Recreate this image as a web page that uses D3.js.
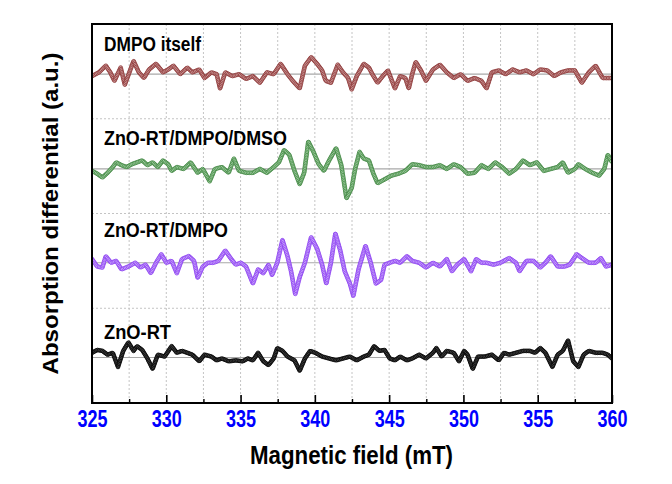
<!DOCTYPE html>
<html>
<head>
<meta charset="utf-8">
<script src="https://cdn.jsdelivr.net/npm/d3@7"></script>
<style>
  html, body { margin: 0; padding: 0; background: #fff; }
  svg { display: block; }
  text { font-family: "Liberation Sans", Arial, sans-serif; font-weight: bold; }
</style>
</head>
<body>
<div id="chart"></div>
<script>
// ---------------- DATA ----------------
const seriesNames = ["DMPO itself", "ZnO-RT/DMPO/DMSO", "ZnO-RT/DMPO", "ZnO-RT"];
const seriesOffsets = [347, 247, 148, 48];

const fieldDMPO = [325.00,325.47,325.93,326.23,326.51,326.93,327.21,327.80,328.15,328.50,328.84,329.31,329.78,330.13,330.48,330.94,331.41,331.76,332.22,332.57,333.04,333.39,333.62,333.97,334.44,334.90,335.37,335.83,336.30,336.77,337.23,337.70,338.16,338.51,338.98,339.33,339.75,340.15,340.49,340.73,341.08,341.54,341.89,342.24,342.48,342.82,343.29,343.64,343.87,344.22,344.57,344.92,345.39,345.74,346.09,346.32,346.55,346.79,347.14,347.48,347.95,348.42,348.88,349.35,349.81,350.28,350.75,351.21,351.56,351.91,352.38,352.84,353.31,353.78,354.24,354.71,355.17,355.64,356.11,356.57,357.04,357.50,357.97,358.44,358.90,359.37,360.00];
const valueDMPO = [-2,2,9,2,-7,7,-11,14,2,-4,5,11,2,5,9,0,7,2,5,-4,2,0,-15,2,-2,0,-5,-2,-9,2,0,11,0,-7,-15,9,18,11,4,-7,-9,10,2,-4,-16,-2,11,7,0,-9,-2,4,-15,-2,-4,-15,0,13,4,-7,5,10,2,-4,0,-7,-4,-7,-15,2,4,0,5,2,4,0,5,4,-2,2,4,4,-9,2,9,-4,-4];

const fieldDMSO = [325.00,325.35,325.70,326.05,326.40,326.63,326.98,327.33,327.68,328.03,328.38,328.73,329.08,329.43,329.78,330.13,330.36,330.71,331.17,331.64,332.11,332.46,332.92,333.27,333.74,334.20,334.55,334.90,335.37,335.83,336.30,336.77,337.23,337.58,337.93,338.28,338.63,338.98,339.28,339.56,339.91,340.26,340.61,340.96,341.43,341.78,342.13,342.48,342.71,343.01,343.29,343.64,343.94,344.22,344.69,345.15,345.62,346.09,346.55,347.02,347.48,347.95,348.42,348.88,349.35,349.81,350.28,350.75,351.21,351.68,352.14,352.61,353.08,353.54,354.01,354.47,354.94,355.41,355.87,356.34,356.69,357.04,357.50,357.74,358.20,358.67,359.13,359.48,359.72,360.00];
const valueDMSO = [-2,-5,-9,-4,2,7,4,2,5,7,9,4,7,2,9,5,-2,2,0,7,-4,0,-13,0,2,-4,11,-2,-4,-4,0,-4,2,7,20,15,-2,-16,-4,29,18,5,-2,9,22,4,-31,-20,0,18,11,9,-5,-15,-11,-7,-5,-2,5,4,2,2,4,0,5,2,-5,-4,4,0,7,2,-5,0,9,4,7,-2,0,2,7,-4,0,5,0,-4,-7,0,15,7];

const fieldZnODMPO = [325.00,325.35,325.70,325.93,326.28,326.63,326.98,327.45,327.91,328.26,328.61,328.96,329.31,329.66,330.01,330.36,330.71,331.06,331.52,331.87,332.11,332.46,332.81,333.16,333.50,333.97,334.32,334.67,335.02,335.37,335.83,336.18,336.53,336.88,337.12,337.47,337.82,338.16,338.40,338.68,338.98,339.33,339.75,340.15,340.49,340.77,341.08,341.38,341.71,342.01,342.36,342.59,342.94,343.41,343.76,344.11,344.46,344.69,345.04,345.39,345.74,346.20,346.55,347.02,347.48,347.95,348.42,348.88,349.23,349.58,350.05,350.51,350.86,351.21,351.56,352.03,352.49,353.08,353.54,353.78,354.24,354.71,355.17,355.52,355.87,356.34,356.80,357.15,357.62,357.97,358.44,358.90,359.25,359.60,360.00];
const valueZnODMPO = [4,-4,-5,7,0,2,-7,-4,0,-5,-2,-11,0,9,0,2,-11,4,7,2,-16,-4,0,0,2,13,5,-2,0,-4,-22,-7,-11,-2,-13,0,24,7,-9,-33,-15,0,27,15,-2,-22,0,31,13,-9,-22,-35,-7,18,0,-22,-18,-2,0,2,0,7,2,0,-5,0,-4,4,-9,-2,4,-9,4,0,0,-2,0,5,0,-9,2,2,-5,0,7,-4,-4,-2,9,5,0,0,5,-4,-2];

const fieldZnO = [325.00,325.35,325.70,326.05,326.40,326.75,327.10,327.45,327.80,328.03,328.38,328.73,329.08,329.43,329.89,330.36,330.71,331.06,331.41,331.76,332.22,332.57,333.04,333.39,333.74,334.20,334.67,335.14,335.49,335.83,336.18,336.53,336.88,337.23,337.47,337.82,338.16,338.63,338.98,339.33,339.68,340.03,340.49,340.96,341.43,341.89,342.36,342.82,343.29,343.64,343.99,344.34,344.69,345.04,345.39,345.74,346.20,346.55,347.02,347.48,347.95,348.18,348.53,348.88,349.35,349.70,350.05,350.28,350.63,350.98,351.45,351.91,352.38,352.73,353.08,353.54,354.01,354.47,354.82,355.17,355.52,355.99,356.34,356.69,357.04,357.39,357.74,358.09,358.44,358.90,359.37,359.72,360.00];
const valueZnO = [5,8,7,3,5,-10,7,16,7,12,8,-1,-12,3,1,12,5,7,5,3,-4,3,1,-3,-1,-4,-3,-4,-1,-3,5,-4,-8,-1,10,7,1,-3,-14,-1,7,5,1,-1,-3,-1,1,-3,1,3,12,7,8,-1,-3,1,-3,-1,3,-1,5,10,1,7,5,-4,7,3,-12,1,1,3,-3,5,3,5,7,7,5,10,5,-10,3,7,18,-4,-10,3,7,5,5,3,-1];

const xTickValues = [325, 330, 335, 340, 345, 350, 355, 360];
const xMinorValues = [327.5, 332.5, 337.5, 342.5, 347.5, 352.5, 357.5];
const yGridValues = [100, 200, 300];

const xTitle = "Magnetic field (mT)";
const yTitle = "Absorption differential (a.u.)";

// ---------------- STYLE ----------------
const W = 672, H = 484;
const plot = { left: 92, right: 612, top: 24, bottom: 403 };
const styles = [
  { dark: "#8a3434", light: "#d3a2a2", line: "#7a2a2a" },
  { dark: "#3f8440", light: "#a9d6a9", line: "#1f8a86" },
  { dark: "#8a3ff0", light: "#d2b0ff", line: "#6a30e0" },
  { dark: "#000000", light: "#4a4a4a", line: "#000000" }
];
const labelLayout = [
  { y: 51, len: 97 },
  { y: 145, len: 183 },
  { y: 237, len: 124 },
  { y: 339, len: 67 }
];

const series = [
  { f: fieldDMPO, v: valueDMPO },
  { f: fieldDMSO, v: valueDMSO },
  { f: fieldZnODMPO, v: valueZnODMPO },
  { f: fieldZnO, v: valueZnO }
].map((s, i) => ({
  name: seriesNames[i],
  offset: seriesOffsets[i],
  pts: s.f.map((f, j) => ({ f, v: s.v[j] }))
}));

const x = d3.scaleLinear().domain([325, 360]).range([plot.left, plot.right]);
const y = d3.scaleLinear().domain([0, 400]).range([plot.bottom, plot.top]);

const svg = d3.select("#chart").append("svg").attr("width", W).attr("height", H);

// grid
const grid = svg.append("g");
grid.selectAll(".vg").data(xTickValues.concat(xMinorValues).filter(d => d > 325 && d < 360))
  .enter().append("line")
  .attr("x1", d => x(d)).attr("x2", d => x(d))
  .attr("y1", plot.top).attr("y2", plot.bottom)
  .attr("stroke", "#c4c4c4").attr("stroke-width", 1).attr("stroke-dasharray", "2,2");
grid.selectAll(".hg").data(yGridValues).enter().append("line")
  .attr("x1", plot.left).attr("x2", plot.right)
  .attr("y1", d => y(d)).attr("y2", d => y(d))
  .attr("stroke", "#c4c4c4").attr("stroke-width", 1).attr("stroke-dasharray", "2,2");

// baselines
svg.append("g").selectAll("line").data(series).enter().append("line")
  .attr("x1", plot.left).attr("x2", plot.right)
  .attr("y1", d => y(d.offset)).attr("y2", d => y(d.offset))
  .attr("stroke", "#a8a8a8").attr("stroke-width", 1.2);

// traces
const lineGen = off => d3.line()
  .x(d => x(d.f)).y(d => y(off + d.v))
  .curve(d3.curveLinear);

svg.append("clipPath").attr("id", "clip").append("rect")
  .attr("x", plot.left).attr("y", plot.top)
  .attr("width", plot.right - plot.left).attr("height", plot.bottom - plot.top);

const traces = svg.append("g").attr("clip-path", "url(#clip)");
series.forEach((s, i) => {
  const st = styles[i];
  const g = traces.append("g");
  const p = g.append("path").datum(s.pts)
    .attr("d", lineGen(s.offset))
    .attr("fill", "none").attr("stroke", st.line).attr("stroke-width", 1.2);
  const node = p.node();
  const L = node.getTotalLength();
  const marks = d3.range(0, L, 1.6).map(l => node.getPointAtLength(l));
  g.selectAll("circle").data(marks).enter().append("circle")
    .attr("cx", d => d.x).attr("cy", d => d.y).attr("r", 1.9)
    .attr("fill", st.light).attr("stroke", st.dark).attr("stroke-width", 0.8);
});

// frame
svg.append("rect")
  .attr("x", plot.left).attr("y", plot.top)
  .attr("width", plot.right - plot.left).attr("height", plot.bottom - plot.top)
  .attr("fill", "none").attr("stroke", "#000").attr("stroke-width", 2);

// bottom ticks (inward)
const axisG = svg.append("g").attr("transform", `translate(0,${plot.bottom})`);
const xAxis = d3.axisBottom(x).tickValues(xTickValues).tickSize(-8).tickPadding(14).tickFormat(d3.format("d"));
axisG.call(xAxis);
axisG.select(".domain").remove();
axisG.selectAll(".tick line").attr("stroke", "#000").attr("stroke-width", 1.6);
axisG.selectAll(".tick text")
  .attr("fill", "#0000ff").attr("font-size", 23).attr("font-weight", "bold")
  .attr("font-family", "Liberation Sans, Arial, sans-serif")
  .attr("textLength", 30).attr("lengthAdjust", "spacingAndGlyphs")
  .attr("dy", null).attr("y", 24);
const minorG = svg.append("g").attr("transform", `translate(0,${plot.bottom})`);
minorG.call(d3.axisBottom(x).tickValues(xMinorValues).tickSize(-4).tickFormat(""));
minorG.select(".domain").remove();
minorG.selectAll(".tick line").attr("stroke", "#000").attr("stroke-width", 1.4);

// series labels
svg.append("g").selectAll("text").data(series).enter().append("text")
  .attr("x", 104).attr("y", (d, i) => labelLayout[i].y)
  .attr("font-size", 20).attr("fill", "#000")
  .attr("textLength", (d, i) => labelLayout[i].len).attr("lengthAdjust", "spacingAndGlyphs")
  .text(d => d.name);

// axis titles
svg.append("text")
  .attr("x", 351.5).attr("y", 464).attr("text-anchor", "middle")
  .attr("font-size", 25).attr("fill", "#000")
  .attr("textLength", 203).attr("lengthAdjust", "spacingAndGlyphs")
  .text(xTitle);
svg.append("text")
  .attr("transform", `translate(58,${(plot.top + plot.bottom) / 2}) rotate(-90)`)
  .attr("text-anchor", "middle")
  .attr("font-size", 22).attr("fill", "#000")
  .attr("textLength", 322).attr("lengthAdjust", "spacingAndGlyphs")
  .text(yTitle);
</script>
</body>
</html>
